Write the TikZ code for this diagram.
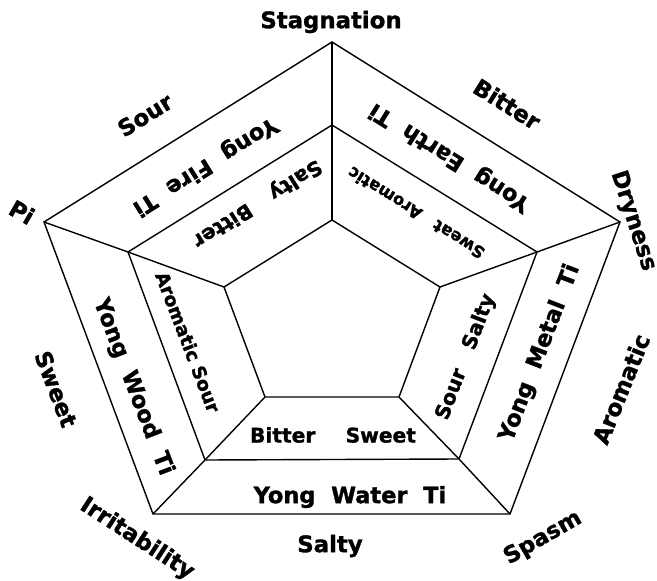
\documentclass[tikz,border=0pt]{standalone}
\usepackage{fontspec}
\setmainfont{DejaVu Sans}
\newfontfamily\heavy[FakeBold=1.3]{DejaVu Sans Bold}
\begin{document}
\begin{tikzpicture}[x=1pt,y=-1pt,
  edge/.style={line width=1.4pt,line join=miter},
  outerlbl/.style={font=\heavy\fontsize{22.8}{27}\selectfont,inner sep=0pt},
  yonglbl/.style={font=\heavy\fontsize{22.5}{27}\selectfont,inner sep=0pt},
  innerlbl/.style={font=\heavy\fontsize{20.2}{24}\selectfont,inner sep=0pt},
  smalllbl/.style={font=\heavy\fontsize{16.5}{20}\selectfont,inner sep=0pt}]
\useasboundingbox (0,0) rectangle (657,581);
% outer pentagon
\coordinate (O1) at (332,42);
\coordinate (O2) at (620,222);
\coordinate (O3) at (510,514);
\coordinate (O4) at (153,514);
\coordinate (O5) at (44,222);
% middle pentagon
\coordinate (M1) at (332,125);
\coordinate (M2) at (537,252);
\coordinate (M3) at (459,459);
\coordinate (M4) at (205,460);
\coordinate (M5) at (128,252);
% inner pentagon
\coordinate (I1) at (332,220);
\coordinate (I2) at (440,287);
\coordinate (I3) at (399,397);
\coordinate (I4) at (265,397);
\coordinate (I5) at (224,287);
\draw[edge] (O1) -- (O2) -- (O3) -- (O4) -- (O5) -- cycle;
\draw[edge] (M1) -- (M2) -- (M3) -- (M4) -- (M5) -- cycle;
\draw[edge] (I1) -- (I2) -- (I3) -- (I4) -- (I5) -- cycle;
\draw[edge] (O1) -- (M1) -- (I1);
\draw[edge] (O2) -- (M2) -- (I2);
\draw[edge] (O3) -- (M3) -- (I3);
\draw[edge] (O4) -- (M4) -- (I4);
\draw[edge] (O5) -- (M5) -- (I5);
% outer labels
\node[outerlbl] (stag) at (331,22) {Stagnation};
\node[outerlbl,rotate=-32] (bitterout) at (507,104) {Bitter};
\node[outerlbl,rotate=-72] (dry) at (633,221) {Dryness};
\node[outerlbl,rotate=68] (arom) at (621,389) {Aromatic};
\node[outerlbl,rotate=30] (spasm) at (543,538) {Spasm};
\node[outerlbl] (saltyout) at (330,546) {Salty};
\node[outerlbl,rotate=-33] (irr) at (137,539) {Irritability};
\node[outerlbl,rotate=-69] (sweetout) at (56,389) {Sweet};
\node[outerlbl,rotate=-30] (pi) at (22,212) {Pi};
\node[outerlbl,rotate=32] (sourout) at (145,115) {Sour};
% yong labels
\node[yonglbl,rotate=212] (fire) at (205,166) {Yong\hspace{0.7em}Fire\hspace{0.7em}Ti};
\node[yonglbl,rotate=148] (earth) at (450,157) {Yong\hspace{0.7em}Earth\hspace{0.7em}Ti};
\node[yonglbl,rotate=69] (metal) at (540,353) {Yong\hspace{0.7em}Metal\hspace{0.7em}Ti};
\node[yonglbl] (water) at (350,497) {Yong\hspace{0.7em}Water\hspace{0.7em}Ti};
\node[yonglbl,rotate=-69] (wood) at (133,387) {Yong\hspace{0.7em}Wood\hspace{0.7em}Ti};
% inner labels
\node[innerlbl,rotate=212] (saltybitter) at (257,203) {Salty\hspace{1.2em}Bitter};
\node[smalllbl,rotate=148] (sweatarom) at (416,213) {Sweat\hspace{1em}Aromatic};
\node[innerlbl,rotate=69] (soursalty) at (466,357) {Sour\hspace{1.1em}Salty};
\node[innerlbl] (bittersweet) at (333,435) {Bitter\hspace{1.5em}Sweet};
\node[innerlbl,font=\heavy\fontsize{18.5}{22}\selectfont,rotate=-69] (aromsour) at (188,342) {Aromatic Sour};
\end{tikzpicture}
\end{document}
